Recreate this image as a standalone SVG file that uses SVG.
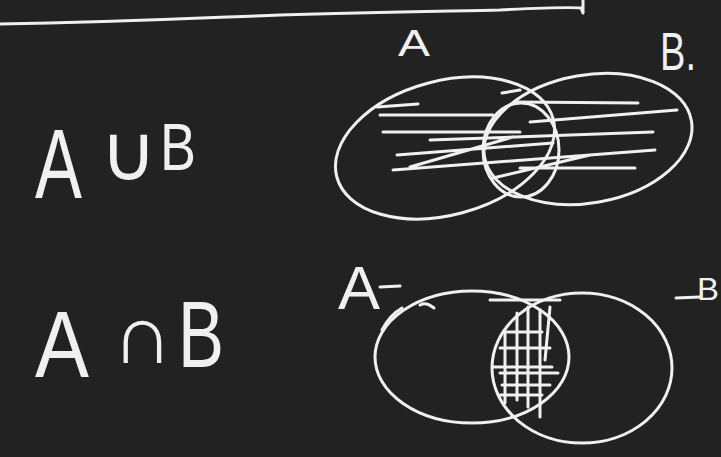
<svg xmlns="http://www.w3.org/2000/svg" width="721" height="457" viewBox="0 0 721 457">
<style>
.s{fill:none;stroke:#f0f0f0;stroke-width:3;stroke-linecap:round;stroke-linejoin:round}
.t{fill:#f0f0f0;font-family:"Liberation Sans","DejaVu Sans",sans-serif}
</style>
<rect width="721" height="457" fill="#222222"/>
<path class="s" d="M0,24 C120,22 200,18 280,15 C380,12 460,11 500,10 C540,8 570,7 581,8 L583,13 L583,0"/>
<g id="labels">
<text class="t" x="35" y="198" font-size="98" textLength="47" lengthAdjust="spacingAndGlyphs">A</text>
<text class="t" x="100" y="180" font-size="78" font-family="DejaVu Sans,sans-serif">∪</text>
<text class="t" x="160" y="170" font-size="66" textLength="36" lengthAdjust="spacingAndGlyphs">B</text>
<text class="t" x="35" y="377" font-size="94" textLength="54" lengthAdjust="spacingAndGlyphs">A</text>
<text class="t" x="112" y="363" font-size="84" font-family="DejaVu Sans,sans-serif">∩</text>
<text class="t" x="178" y="367" font-size="94" textLength="46" lengthAdjust="spacingAndGlyphs">B</text>
</g>
<g id="union">
<text class="t" x="398" y="56" font-size="36" textLength="32" lengthAdjust="spacingAndGlyphs">A</text>
<text class="t" x="660" y="70" font-size="54" textLength="36" lengthAdjust="spacingAndGlyphs">B.</text>
<ellipse class="s" cx="445" cy="148" rx="112" ry="67" transform="rotate(-15 445 148)"/>
<ellipse class="s" cx="588" cy="139" rx="105" ry="64" transform="rotate(-10 588 139)"/>
<ellipse class="s" cx="521" cy="150" rx="38" ry="47"/>
<path class="s" d="M377,107 L418,104 M380,115 L493,115 M502,93 L520,90 M515,102 L638,103 M383,132 L520,132 M530,122 L677,110 M430,140 L653,132 M397,155 L553,143 M410,167 L513,137 M393,170 L655,150 M493,178 L590,155 M520,168 L635,168"/>
</g>
<g id="intersection">
<text class="t" x="338" y="309" font-size="62" textLength="42" lengthAdjust="spacingAndGlyphs">A</text>
<path class="s" d="M380,287 L400,286"/>
<text class="t" x="697" y="300" font-size="32" textLength="22" lengthAdjust="spacingAndGlyphs">B</text>
<path class="s" d="M676,298 L700,297"/>
<ellipse class="s" cx="472" cy="357" rx="97" ry="66"/>
<ellipse class="s" cx="582" cy="368" rx="90" ry="75"/>
<path class="s" d="M382,330 C388,318 395,312 402,308 M420,305 C426,302 430,305 434,308"/>
<path class="s" d="M490,300 L560,300 M505,332 L505,403 M517,313 L517,400 M528,307 L528,407 M540,310 L540,417 M550,307 L545,360 M505,332 L542,332 M500,348 L550,348 M493,367 L552,367 M500,373 L558,373 M502,385 L550,385 M500,395 L542,395"/>
</g>
</svg>
